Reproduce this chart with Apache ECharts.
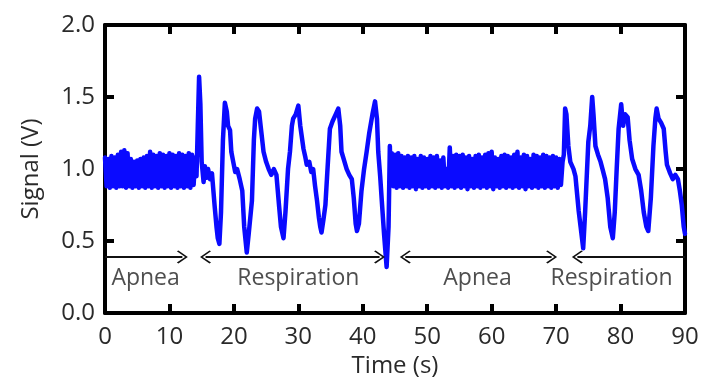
<!DOCTYPE html>
<html>
<head>
<meta charset="utf-8">
<script src="https://cdn.jsdelivr.net/npm/echarts@6/dist/echarts.min.js"></script>
<style>html,body{margin:0;padding:0;background:#fff}#c{width:705px;height:383px}</style>
</head>
<body>
<div id="c"></div>
<script>
// ---- data ----
const xTicks = [0, 10, 20, 30, 40, 50, 60, 70, 80, 90];
const yTicks = [0.0, 0.5, 1.0, 1.5, 2.0];

const apnea1 = [[0,1.08],[0.25,0.88],[0.5,1.07],[0.75,0.87],[1,1.09],[1.25,0.88],[1.5,1.08],[1.75,0.87],[2,1.10],[2.25,0.88],[2.5,1.12],[2.75,0.88],[3,1.13],[3.25,0.87],[3.5,1.11],[3.75,0.88],[4,1.07],[4.25,0.87],[4.5,1.05],[4.75,0.88],[5,1.06],[5.25,0.87],[5.5,1.07],[5.75,0.88],[6,1.08],[6.25,0.87],[6.5,1.09],[6.75,0.88],[7,1.12],[7.25,0.87],[7.5,1.10],[7.75,0.88],[8,1.09],[8.25,0.87],[8.5,1.11],[8.75,0.88],[9,1.10],[9.25,0.87],[9.5,1.09],[9.75,0.88],[10,1.11],[10.25,0.87],[10.5,1.10],[10.75,0.88],[11,1.09],[11.25,0.87],[11.5,1.11],[11.75,0.88],[12,1.10],[12.25,0.87],[12.5,1.09],[12.75,0.88],[13,1.11],[13.25,0.87],[13.5,1.10],[13.75,0.89],[14,1.08]];

const resp1 = [[14.2,0.95],[14.4,1.3],[14.6,1.64],[14.8,1.45],[15.0,1.05],[15.3,0.91],[15.5,1.02],[15.8,0.94],[16.0,1.0],[16.3,0.93],[16.6,0.97],[17.0,0.75],[17.3,0.6],[17.5,0.52],[17.75,0.48],[18.0,0.7],[18.3,1.2],[18.6,1.46],[18.9,1.40],[19.1,1.30],[19.4,1.27],[19.6,1.12],[19.9,1.05],[20.2,0.98],[20.5,1.0],[20.9,0.93],[21.3,0.85],[21.6,0.6],[22.0,0.42],[22.3,0.55],[22.8,0.78],[23.1,1.2],[23.3,1.35],[23.6,1.42],[23.9,1.40],[24.2,1.28],[24.6,1.12],[25.0,1.05],[25.4,1.0],[25.8,0.96],[26.2,1.0],[26.6,0.96],[27.0,0.75],[27.3,0.6],[27.7,0.52],[28.0,0.7],[28.4,1.0],[28.7,1.12],[29.0,1.30],[29.2,1.35],[29.6,1.38],[30.0,1.44],[30.3,1.30],[30.8,1.14],[31.1,1.08],[31.3,1.03],[31.7,1.05],[32.0,0.98],[32.3,1.0],[32.6,0.88],[32.9,0.78],[33.2,0.66],[33.4,0.6],[33.6,0.56],[33.9,0.65],[34.2,0.75],[34.5,0.98],[34.9,1.28],[35.3,1.33],[35.8,1.38],[36.2,1.42],[36.5,1.30],[36.7,1.12],[37.1,1.06],[37.5,1.0],[37.9,0.96],[38.3,0.93],[38.6,0.80],[38.9,0.62],[39.1,0.57],[39.4,0.62],[39.8,0.85],[40.2,1.0],[40.6,1.12],[41.0,1.25],[41.5,1.38],[41.9,1.47],[42.2,1.35],[42.4,1.12],[42.7,0.95],[42.95,0.78],[43.3,0.55],[43.7,0.32],[44.0,0.6],[44.2,1.16],[44.35,0.92]];

const apnea2 = [[44.5,1.11],[44.75,0.88],[45,1.10],[45.25,0.87],[45.5,1.11],[45.75,0.88],[46,1.09],[46.25,0.87],[46.5,1.08],[46.75,0.88],[47,1.09],[47.25,0.87],[47.5,1.08],[47.75,0.88],[48,1.09],[48.25,0.86],[48.5,1.07],[48.75,0.88],[49,1.09],[49.25,0.87],[49.5,1.08],[49.75,0.88],[50,1.07],[50.25,0.87],[50.5,1.09],[50.75,0.88],[51,1.08],[51.25,0.87],[51.5,1.09],[51.75,0.88],[52,1.06],[52.25,0.87],[52.5,1.08],[52.75,0.88],[53,1.00],[53.25,0.87],[53.5,1.15],[53.75,0.88],[54,1.09],[54.25,0.87],[54.5,1.10],[54.75,0.88],[55,1.09],[55.25,0.87],[55.5,1.10],[55.75,0.88],[56,1.08],[56.25,0.86],[56.5,1.09],[56.75,0.88],[57,1.07],[57.25,0.87],[57.5,1.09],[57.75,0.88],[58,1.10],[58.25,0.87],[58.5,1.08],[58.75,0.88],[59,1.10],[59.25,0.87],[59.5,1.11],[59.75,0.88],[60,1.12],[60.25,0.86],[60.5,1.08],[60.75,0.88],[61,1.07],[61.25,0.87],[61.5,1.09],[61.75,0.88],[62,1.10],[62.25,0.87],[62.5,1.09],[62.75,0.88],[63,1.08],[63.25,0.87],[63.5,1.10],[63.75,0.88],[64,1.12],[64.25,0.87],[64.5,1.08],[64.75,0.88],[65,1.10],[65.25,0.86],[65.5,1.09],[65.75,0.88],[66,1.07],[66.25,0.87],[66.5,1.10],[66.75,0.88],[67,1.09],[67.25,0.87],[67.5,1.08],[67.75,0.88],[68,1.10],[68.25,0.87],[68.5,1.09],[68.75,0.88],[69,1.08],[69.25,0.87],[69.5,1.09],[69.75,0.88],[70,1.08],[70.25,0.87],[70.5,1.07],[70.75,0.89],[71,1.05]];

const resp2 = [[71.2,1.1],[71.4,1.42],[71.6,1.38],[71.9,1.16],[72.2,1.05],[72.7,1.0],[73.0,0.95],[73.5,0.71],[73.8,0.6],[74.2,0.45],[74.5,0.7],[75.0,1.19],[75.3,1.3],[75.6,1.50],[75.8,1.38],[76.1,1.16],[76.5,1.10],[76.9,1.05],[77.2,1.0],[77.6,0.93],[78.0,0.8],[78.4,0.6],[78.8,0.52],[79.1,0.7],[79.4,1.0],[79.7,1.28],[80.1,1.45],[80.4,1.3],[80.7,1.38],[81.1,1.36],[81.4,1.2],[81.8,1.07],[82.3,1.0],[82.8,0.96],[83.2,0.85],[83.6,0.7],[84.0,0.6],[84.3,0.57],[84.7,0.8],[85.1,1.16],[85.4,1.35],[85.6,1.42],[85.9,1.35],[86.3,1.32],[86.7,1.28],[87.0,1.12],[87.2,1.03],[87.7,0.97],[88.1,0.93],[88.5,0.96],[88.9,0.93],[89.2,0.85],[89.5,0.75],[89.8,0.6],[90,0.55]];

// annotation arrows: [from, to, head at start?, head at end?]
const arrowY = 0.39;
const arrows = [[0, 12.0, false, true], [15.6, 42.6, true, true], [46.6, 69.3, true, true], [73.3, 90, true, false]];
// annotation texts
const labelY = 0.24;
const labels = [['Apnea', 6.3], ['Respiration', 30.0], ['Apnea', 57.8], ['Respiration', 78.6]];

// ---- chart ----
const FONT = '"Open Sans", "Noto Sans", sans-serif';
const signal = apnea1.concat(resp1, apnea2, resp2);
const chevron = 'path://M0,0 L10,9 L8.6,10.5 L0,2.6 L-8.6,10.5 L-10,9 Z';

const markData = arrows.map(a => [
  { coord: [a[0], arrowY], symbol: a[2] ? chevron : 'none', symbolSize: [13, 11] },
  { coord: [a[1], arrowY], symbol: a[3] ? chevron : 'none', symbolSize: [13, 11] }
]);

const axisCommon = {
  type: 'value',
  axisLine: { show: true, onZero: false, lineStyle: { color: '#000', width: 4 } },
  axisTick: { show: true, inside: true, length: 9, lineStyle: { color: '#000', width: 4 } },
  splitLine: { show: false }
};

const chart = echarts.init(document.getElementById('c'), null, { renderer: 'canvas' });
chart.setOption({
  animation: false,
  backgroundColor: '#fff',
  grid: { left: 105, right: 20, top: 25, bottom: 67 },
  xAxis: [
    Object.assign({}, axisCommon, {
      min: 0, max: 90, interval: 10, position: 'bottom',
      name: 'Time (s)', nameLocation: 'middle', nameGap: 40,
      nameTextStyle: { fontFamily: FONT, fontSize: 24, color: '#2a2a2a' },
      axisLabel: { fontFamily: FONT, fontSize: 24, color: '#2a2a2a', margin: 12,
        formatter: v => xTicks.includes(v) ? String(v) : '' }
    }),
    Object.assign({}, axisCommon, {
      min: 0, max: 90, interval: 10, position: 'top', axisLabel: { show: false }
    })
  ],
  yAxis: [
    Object.assign({}, axisCommon, {
      min: 0, max: 2, interval: 0.5, position: 'left',
      name: 'Signal (V)', nameLocation: 'middle', nameGap: 62,
      nameTextStyle: { fontFamily: FONT, fontSize: 24, color: '#2a2a2a' },
      axisLabel: { fontFamily: FONT, fontSize: 24, color: '#2a2a2a', margin: 10,
        formatter: v => yTicks.includes(v) ? v.toFixed(1) : '' }
    }),
    Object.assign({}, axisCommon, {
      min: 0, max: 2, interval: 0.5, position: 'right', axisLabel: { show: false }
    })
  ],
  series: [
    {
      type: 'line', data: signal, showSymbol: false, symbol: 'none',
      lineStyle: { color: '#0a0aff', width: 4.5, join: 'round', cap: 'round' },
      z: 3
    },
    {
      type: 'scatter', data: labels.map(l => [l[1], labelY, l[0]]),
      symbolSize: 0, silent: true,
      itemStyle: { color: '#111' },
      label: { show: true, position: 'inside', formatter: p => p.data[2],
        fontFamily: FONT, fontSize: 23, color: '#222' },
      markLine: {
        silent: true, animation: false,
        label: { show: false },
        itemStyle: { color: '#111', opacity: 1 },
        lineStyle: { color: '#111', width: 1.8, type: 'solid', opacity: 1 },
        emphasis: { disabled: true },
        data: markData
      }
    }
  ]
});
</script>
</body>
</html>
